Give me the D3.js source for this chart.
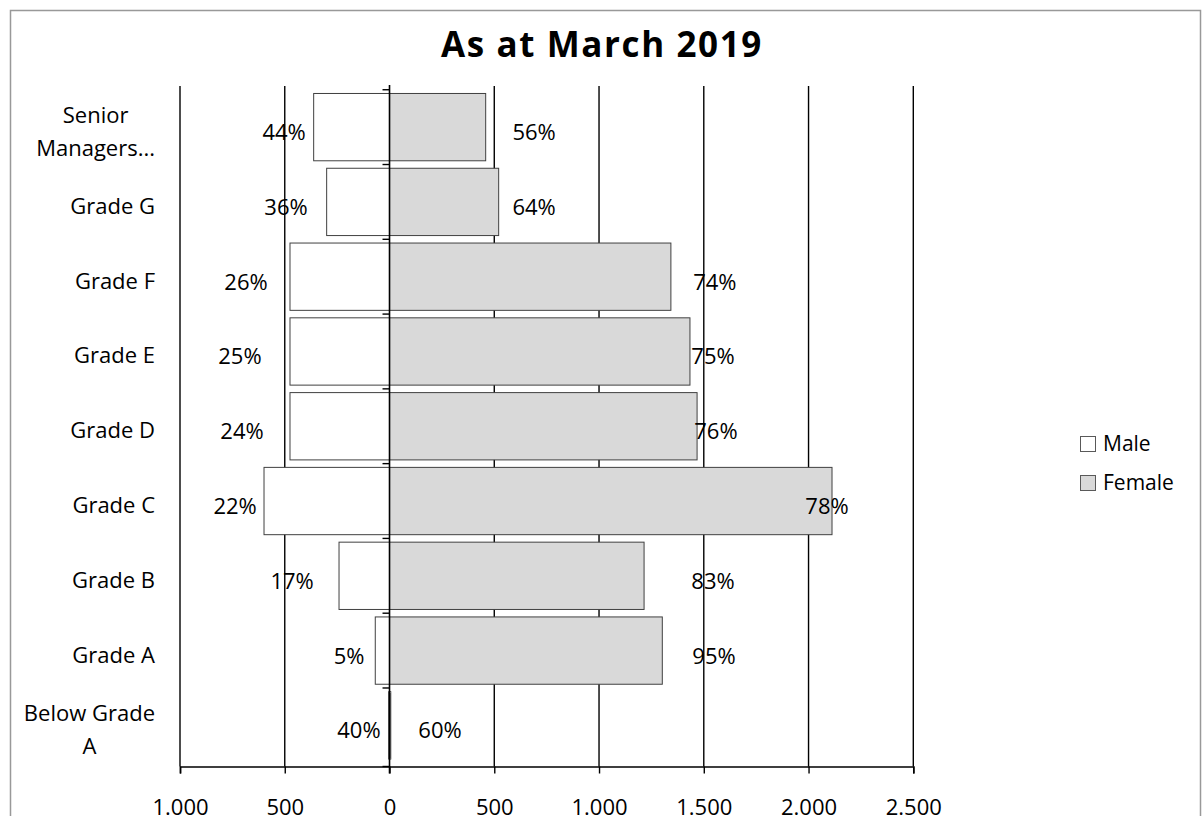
<!DOCTYPE html>
<html>
<head>
<meta charset="utf-8">
<script src="https://cdn.jsdelivr.net/npm/d3@7"></script>
<style>
  body { margin: 0; background: #fff; }
  svg { display: block; font-family: "Open Sans", Lato, sans-serif; }
</style>
</head>
<body>
<div id="chart"></div>
<script>
	// data
	var categories = ["Senior\nManagers...", "Grade G", "Grade F", "Grade E", "Grade D", "Grade C", "Grade B", "Grade A", "Below Grade\nA"];
	var maleValues = [362, 300, 475, 475, 475, 599, 241, 68, 4];
	var femaleValues = [459, 521, 1343, 1434, 1468, 2112, 1215, 1302, 6];
	var malePct = ["44%", "36%", "26%", "25%", "24%", "22%", "17%", "5%", "40%"];
	var femalePct = ["56%", "64%", "74%", "75%", "76%", "78%", "83%", "95%", "60%"];
	var xTicks = [-1000, -500, 0, 500, 1000, 1500, 2000, 2500];
	var seriesNames = ["Male", "Female"];

	// where excel put the data labels (in axis units)
	var maleLabelAt = [-503, -494, -685, -714, -704, -737, -465, -193, -146];
	var femaleLabelAt = [690, 690, 1553, 1544, 1558, 2088, 1544, 1549, 241];

	// set canvas
	var W = 1203, H = 816;
	var svg = d3.select("#chart")
		.append("svg")
			.attr("width", W)
			.attr("height", H);

	// outer chart border
	svg.append("rect")
		.attr("x", 10.5)
		.attr("y", 10.5)
		.attr("width", 1190)
		.attr("height", 830)
		.attr("fill", "none")
		.attr("stroke", "#999")
		.attr("stroke-width", 1.5);

	// scales
	var x = d3.scaleLinear()
		.domain([-1000, 2500])
		.range([180, 913.3]);

	var y = d3.scaleBand()
		.domain(categories)
		.range([86, 766.5])
		.padding(0.1);

	var plotTop = 86, plotBottom = 766.5;

	// title
	svg.append("text")
		.attr("x", 602)
		.attr("y", 57)
		.attr("text-anchor", "middle")
		.attr("font-size", "35px")
		.attr("font-weight", "bold")
		.attr("letter-spacing", "1.6px")
		.text("As at March 2019");

	// gridlines
	svg.append("g")
		.selectAll("line")
		.data(xTicks.filter(function(d) { return d != 0; }))
		.enter().append("line")
			.attr("x1", function(d) { return x(d); })
			.attr("x2", function(d) { return x(d); })
			.attr("y1", plotTop)
			.attr("y2", plotBottom)
			.attr("stroke", "#000")
			.attr("stroke-width", 1.4);

	// bars
	var rows = categories.map(function(c, i) {
		return { cat: c, male: maleValues[i], female: femaleValues[i], i: i };
	});

	var bars = svg.append("g");
	bars.selectAll(".male")
		.data(rows)
		.enter().append("rect")
			.attr("class", "male")
			.attr("x", function(d) { return x(-d.male); })
			.attr("y", function(d) { return y(d.cat); })
			.attr("width", function(d) { return x(0) - x(-d.male); })
			.attr("height", y.bandwidth())
			.attr("fill", "#ffffff")
			.attr("stroke", "#404040")
			.attr("stroke-width", 1);

	bars.selectAll(".female")
		.data(rows)
		.enter().append("rect")
			.attr("class", "female")
			.attr("x", x(0))
			.attr("y", function(d) { return y(d.cat); })
			.attr("width", function(d) { return x(d.female) - x(0); })
			.attr("height", y.bandwidth())
			.attr("fill", "#d9d9d9")
			.attr("stroke", "#404040")
			.attr("stroke-width", 1);

	// x axis
	var locale = d3.formatLocale({ decimal: ",", thousands: ".", grouping: [3], currency: ["", ""] });
	var fmt = locale.format(",");
	var xAxis = svg.append("g")
		.attr("transform", "translate(0," + plotBottom + ")")
		.call(d3.axisBottom(x)
			.tickValues(xTicks)
			.tickSize(7)
			.tickPadding(26)
			.tickFormat(function(d) { return fmt(Math.abs(d)); }));
	xAxis.select(".domain").attr("stroke", "#000").attr("stroke-width", 1.6);
	xAxis.selectAll(".tick line").attr("stroke", "#000").attr("stroke-width", 1.4);
	xAxis.selectAll(".tick text")
		.attr("font-family", "'Open Sans', sans-serif")
		.attr("font-size", "22px")
		.attr("fill", "#000");

	// category axis on zero
	var bounds = categories.map(function(c) { return y(c) - y.step() * y.paddingInner() / 2; });
	bounds.push(plotBottom);
	svg.append("line")
		.attr("x1", x(0)).attr("x2", x(0))
		.attr("y1", plotTop - 1).attr("y2", plotBottom + 7)
		.attr("stroke", "#000")
		.attr("stroke-width", 1.6);
	svg.append("g")
		.selectAll("line")
		.data(bounds)
		.enter().append("line")
			.attr("x1", x(0) - 7)
			.attr("x2", x(0))
			.attr("y1", function(d) { return d; })
			.attr("y2", function(d) { return d; })
			.attr("stroke", "#000")
			.attr("stroke-width", 1.4);

	// category labels, centred lines, block right aligned
	var catLabels = svg.append("g")
		.attr("font-size", "22px")
		.attr("fill", "#000");
	categories.forEach(function(c) {
		var lines = c.split("\n");
		var cy = y(c) + y.bandwidth() / 2;
		var lh = 33;
		var g = catLabels.append("g");
		var texts = lines.map(function(line, j) {
			return g.append("text")
				.attr("y", cy + 12 - (lines.length - 1) * lh / 2 + j * lh)
				.attr("text-anchor", "middle")
				.text(line);
		});
		var bw = d3.max(texts, function(t) { return t.node().getComputedTextLength(); });
		var left = Math.max(155 - bw, 12);
		texts.forEach(function(t) { t.attr("x", left + bw / 2); });
	});

	// data labels
	var labels = svg.append("g")
		.attr("font-size", "22px")
		.attr("text-anchor", "middle")
		.attr("fill", "#000");
	labels.selectAll(".mlab")
		.data(rows)
		.enter().append("text")
			.attr("class", "mlab")
			.attr("x", function(d) { return x(maleLabelAt[d.i]); })
			.attr("y", function(d) { return y(d.cat) + y.bandwidth() / 2 + 13; })
			.text(function(d) { return malePct[d.i]; });
	labels.selectAll(".flab")
		.data(rows)
		.enter().append("text")
			.attr("class", "flab")
			.attr("x", function(d) { return x(femaleLabelAt[d.i]); })
			.attr("y", function(d) { return y(d.cat) + y.bandwidth() / 2 + 13; })
			.text(function(d) { return femalePct[d.i]; });

	// legend
	var legendFill = ["#ffffff", "#d9d9d9"];
	var legend = svg.append("g")
		.attr("transform", "translate(1080, 436)");
	seriesNames.forEach(function(name, i) {
		var row = legend.append("g")
			.attr("transform", "translate(0, " + (i * 39) + ")");
		row.append("rect")
			.attr("x", 0.5)
			.attr("y", 0.5)
			.attr("width", 15)
			.attr("height", 15)
			.attr("fill", legendFill[i])
			.attr("stroke", "#595959");
		row.append("text")
			.attr("x", 23)
			.attr("y", 15)
			.attr("font-size", "21px")
			.text(name);
	});
</script>
</body>
</html>
